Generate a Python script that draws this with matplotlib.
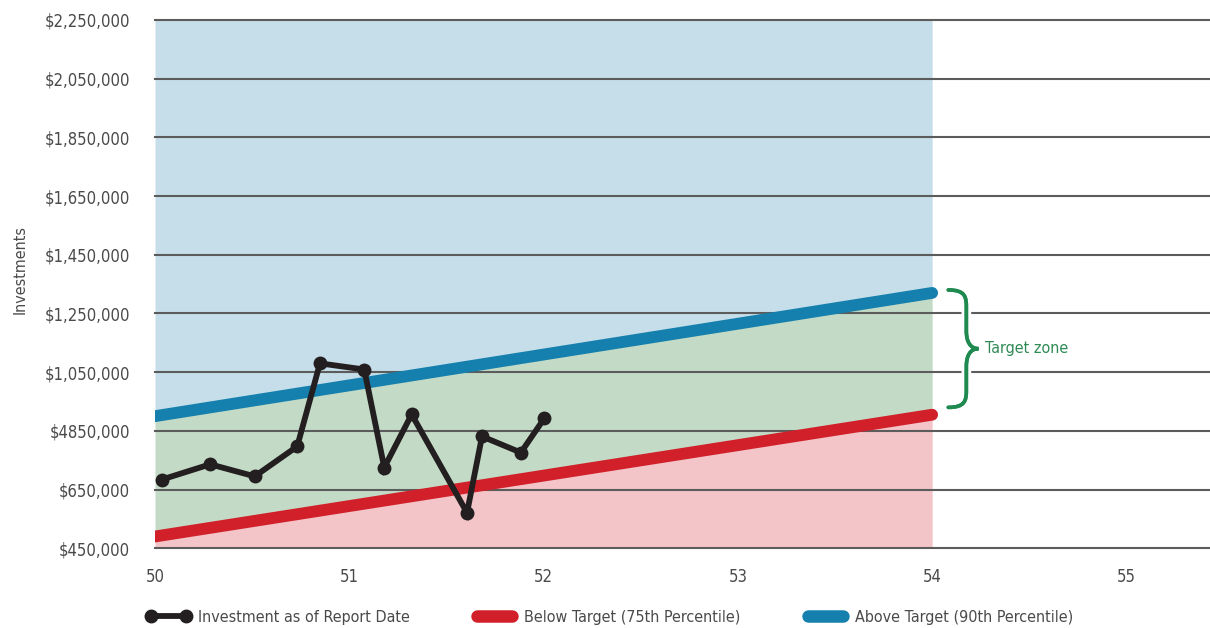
import numpy as np
import matplotlib
matplotlib.use("Agg")
import matplotlib.pyplot as plt
from matplotlib.path import Path
from matplotlib.patches import PathPatch
from matplotlib.lines import Line2D
import matplotlib.patheffects as pe

plt.rcParams['font.family'] = ['DejaVu Sans']
plt.rcParams['font.stretch'] = 'condensed'

# investment history (age in years, dollars)
ages = [50.035, 50.284, 50.513, 50.732, 50.849, 51.077, 51.180, 51.321,
        51.606, 51.683, 51.883, 52.004]
invest = [684000, 736000, 695000, 797000, 1080000, 1059000, 725000, 906000,
          571000, 831000, 776000, 893000]

# percentile targets over the plan period
target_ages = [50, 54]
below_target = [490000, 905000]   # 75th percentile
above_target = [900000, 1320000]  # 90th percentile

y_ticks = [450000, 650000, 850000, 1050000, 1250000, 1450000, 1650000,
           1850000, 2050000, 2250000]
y_labels = ['$450,000', '$650,000', '$4850,000', '$1,050,000', '$1,250,000',
            '$1,450,000', '$1,650,000', '$1,850,000', '$2,050,000', '$2,250,000']
x_ticks = [50, 51, 52, 53, 54, 55]

c_black = '#231f20'
c_red = '#d1202a'
c_blue = '#1580ad'
c_green = '#1e8a50'
c_grid = '#5c5c5c'
c_text = '#4a4a4a'

fig = plt.figure(figsize=(12.1, 6.28), dpi=100)
ax = fig.add_axes([0.1281, 0.127, 0.8719, 0.8412])
ax.set_xlim(50, 55.43)
ax.set_ylim(450000, 2250000)

# shaded zones
ax.fill_between(target_ages, above_target, 2250000, color='#c5dee9', lw=0, zorder=1)
ax.fill_between(target_ages, below_target, above_target, color='#c3dbc6', lw=0, zorder=1)
ax.fill_between(target_ages, 450000, below_target, color='#f3c4c8', lw=0, zorder=1)

for yv in y_ticks:
    ax.axhline(yv, color=c_grid, lw=1.5, zorder=2, clip_on=False)

ax.plot(target_ages, below_target, color=c_red, lw=8.5, solid_capstyle='round', zorder=3)
ax.plot(target_ages, above_target, color=c_blue, lw=8.5, solid_capstyle='round', zorder=3)
ax.plot(ages, invest, color=c_black, lw=4.2, marker='o', ms=9, zorder=4,
        solid_joinstyle='miter')

# curly brace marking the target zone
x0, x1, x2 = 54.083, 54.176, 54.238
yt, ym, yb = 1330000, 1130000, 930000
d = 60000
verts = [(x0, yt), (x1 - 0.005, yt), (x1, yt - d * 0.4), (x1, yt - d),
         (x1, ym + d),
         (x1, ym + d * 0.4), (x1 + 0.02, ym), (x2, ym),
         (x1 + 0.02, ym), (x1, ym - d * 0.4), (x1, ym - d),
         (x1, yb + d),
         (x1, yb + d * 0.4), (x1 - 0.005, yb), (x0, yb)]
codes = [Path.MOVETO, Path.CURVE4, Path.CURVE4, Path.CURVE4,
         Path.LINETO,
         Path.CURVE4, Path.CURVE4, Path.CURVE4,
         Path.CURVE4, Path.CURVE4, Path.CURVE4,
         Path.LINETO,
         Path.CURVE4, Path.CURVE4, Path.CURVE4]
brace = PathPatch(Path(verts, codes), facecolor='none', edgecolor=c_green,
                  lw=2.6, capstyle='round', zorder=5,
                  path_effects=[pe.withStroke(linewidth=7, foreground='white'), pe.Normal()])
ax.add_patch(brace)
ax.text(54.27, ym, 'Target zone', color='#2f8a55', fontsize=11.5,
        va='center', ha='left', zorder=5)

ax.set_yticks(y_ticks)
ax.set_yticklabels(y_labels)
ax.set_xticks(x_ticks)
ax.tick_params(axis='both', length=0, labelcolor=c_text, labelsize=12)
ax.tick_params(axis='y', pad=18)
ax.tick_params(axis='x', pad=14)
for s in ax.spines.values():
    s.set_visible(False)

ax.set_ylabel('Investments', color=c_text, fontsize=11.5)
ax.yaxis.set_label_coords(-0.121, 0.527)

handles = [
    Line2D([], [], color=c_black, lw=4.2, marker='o', ms=9),
    Line2D([], [], color=c_red, lw=9, solid_capstyle='round'),
    Line2D([], [], color=c_blue, lw=9, solid_capstyle='round'),
]
labels = ['Investment as of Report Date', 'Below Target (75th Percentile)',
          'Above Target (90th Percentile)']
fig.legend(handles, labels, loc='center', bbox_to_anchor=(0.504, 0.017), ncol=3,
           frameon=False, numpoints=2, handlelength=2.8, handletextpad=0.45,
           columnspacing=3.9, fontsize=11.5, labelcolor=c_text)

fig.savefig('out.png', dpi=100)
